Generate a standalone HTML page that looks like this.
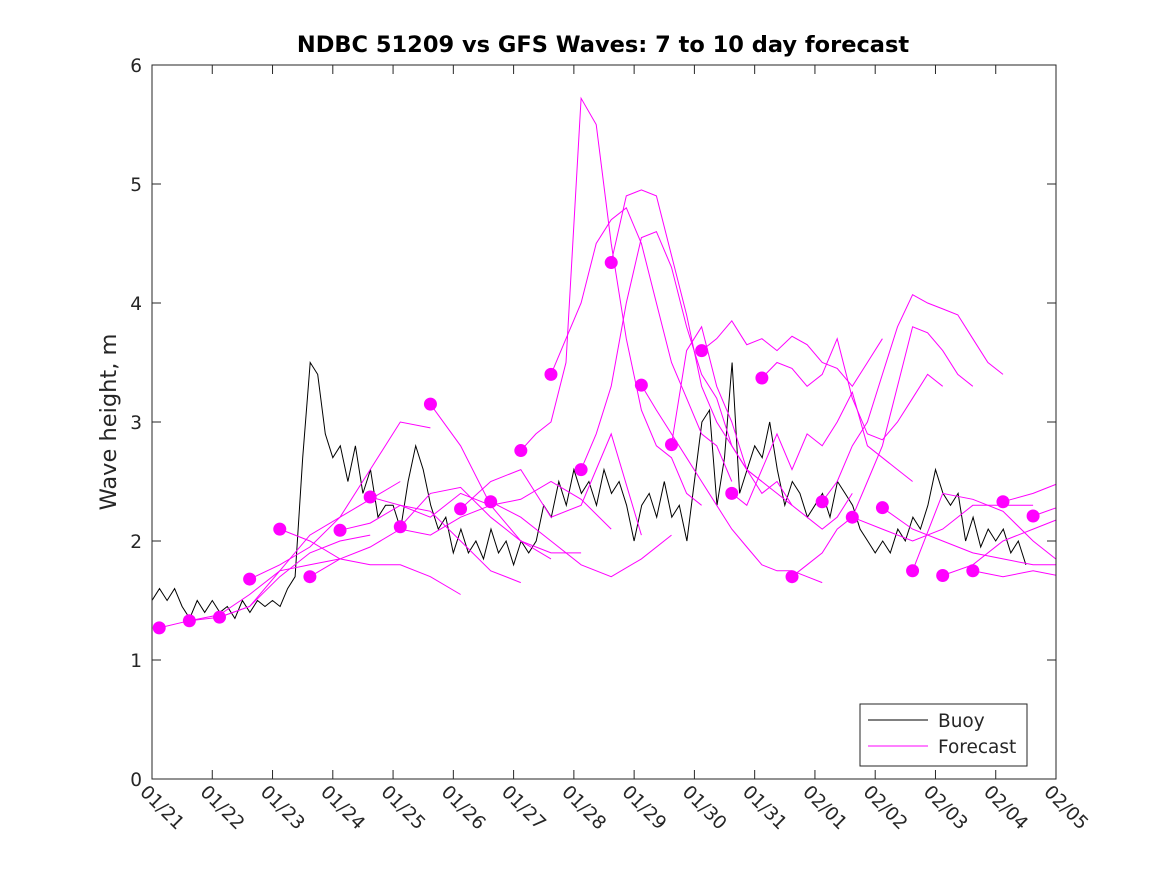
<!DOCTYPE html>
<html><head><meta charset="utf-8">
<style>
html,body{margin:0;padding:0;background:#fff;}
svg text{font-family:"DejaVu Sans","Liberation Sans",sans-serif;fill:#262626;}
</style></head>
<body>
<svg id="chart" width="1167" height="875" viewBox="0 0 1167 875" xmlns="http://www.w3.org/2000/svg">
<rect width="1167" height="875" fill="#fff"/>
<text x="603" y="52" text-anchor="middle" font-size="22.5" font-weight="bold" style="fill:#000">NDBC 51209 vs GFS Waves: 7 to 10 day forecast</text>
<text transform="translate(116,422) rotate(-90)" text-anchor="middle" font-size="22.5">Wave height, m</text>
<g id="plot"></g>
<g id="axes"></g>
<g>
<rect x="860" y="704" width="167" height="62" fill="#fff" stroke="#262626" stroke-width="1"/>
<line x1="868" y1="720" x2="928" y2="720" stroke="#000" stroke-width="1"/>
<text x="938" y="727" font-size="18.5">Buoy</text>
<line x1="868" y1="746" x2="928" y2="746" stroke="#ff00ff" stroke-width="1"/>
<text x="938" y="753" font-size="18.5">Forecast</text>
</g>
</svg>
<script>
const xTickLabels=["01/21","01/22","01/23","01/24","01/25","01/26","01/27","01/28","01/29","01/30","01/31","02/01","02/02","02/03","02/04","02/05"];
const yTickLabels=[0,1,2,3,4,5,6];
const buoyStep=0.125;
const buoyValues=[1.5,
1.6,1.5,1.6,1.45, 1.35,1.5,1.4,1.5, 1.4,1.45,1.35,1.5, 1.4,1.5,1.45,1.5,
1.45,1.6,1.7,2.7, 3.5,3.4,2.9,2.7, 2.8,2.5,2.8,2.4, 2.6,2.2,2.3,2.3,
2.1,2.5,2.8,2.6, 2.3,2.1,2.2,1.9, 2.1,1.9,2.0,1.85, 2.1,1.9,2.0,1.8,
2.0,1.9,2.0,2.3, 2.2,2.5,2.3,2.6, 2.4,2.5,2.3,2.6, 2.4,2.5,2.3,2.0,
2.3,2.4,2.2,2.5, 2.2,2.3,2.0,2.5, 3.0,3.1,2.3,2.7, 3.5,2.4,2.6,2.8,
2.7,3.0,2.6,2.3, 2.5,2.4,2.2,2.3, 2.4,2.2,2.5,2.4, 2.3,2.1,2.0,1.9,
2.0,1.9,2.1,2.0, 2.2,2.1,2.3,2.6, 2.4,2.3,2.4,2.0, 2.2,1.95,2.1,2.0,
2.1,1.9,2.0,1.8];
const forecastStart0=0.12, forecastSpacing=0.5;
const forecastSteps=[0.5,0.5,0.5,0.5,0.5,0.5,0.5,0.5,0.5,0.5,0.5,0.5,0.25,0.25,0.25,0.25,0.25,0.25,0.25,0.25,0.25,0.25,0.25,0.5,0.5,0.5,0.5,0.5,0.5,0.5];
const forecasts=[
[1.27,1.33,1.38,1.55,1.75,1.8,1.85],
[1.33,1.36,1.45,1.7,1.9,2.0,2.05],
[1.36,1.45,1.75,2.05,2.2,2.35,2.5],
[1.68,1.8,1.95,2.2,2.6,3.0,2.95],
[2.10,2.0,1.85,1.8,1.8,1.7,1.55],
[1.70,1.85,1.95,2.1,2.05,2.2,2.3],
[2.09,2.15,2.3,2.25,2.0,1.75,1.65],
[2.37,2.3,2.2,2.4,2.3,2.0,1.85],
[2.12,2.4,2.45,2.2,2.0,1.9,1.9],
[3.15,2.8,2.3,2.35,2.5,2.35,2.1],
[2.27,2.5,2.6,2.2,2.3,2.9,2.05],
[2.33,2.2,2.0,1.8,1.7,1.85,2.05],
[2.76,2.9,3.0,3.5,5.72,5.5,4.5,3.7,3.1,2.8,2.7,2.4,2.3],
[3.40,3.7,4.0,4.5,4.7,4.8,4.5,4.0,3.5,3.2,2.9,2.8,2.5],
[2.60,2.9,3.3,4.0,4.55,4.6,4.3,3.8,3.4,3.2,2.8,2.6,2.5],
[4.34,4.9,4.95,4.9,4.4,3.9,3.3,3.0,2.8,2.6,2.5,2.4,2.3],
[3.31,3.1,2.9,2.7,2.5,2.3,2.1,1.95,1.8,1.75,1.75,1.7,1.65],
[2.81,3.6,3.8,3.3,3.0,2.6,2.4,2.5,2.3,2.2,2.1,2.2,2.4],
[3.60,3.7,3.85,3.65,3.7,3.6,3.72,3.65,3.5,3.45,3.3,3.5,3.7],
[2.40,2.3,2.6,2.9,2.6,2.9,2.8,3.0,3.25,2.8,2.7,2.6,2.5],
[3.37,3.5,3.45,3.3,3.4,3.7,3.2,2.9,2.85,3.0,3.2,3.4,3.3],
[1.70,1.8,1.9,2.1,2.2,2.5,2.8,3.3,3.8,3.75,3.6,3.4,3.3],
[2.33,2.5,2.8,3.0,3.4,3.8,4.07,4.0,3.95,3.9,3.7,3.5,3.4],
[2.20,2.1,2.0,2.1,2.3,2.3,2.3],
[2.28,2.1,2.0,1.9,1.85,1.8,1.8],
[1.75,2.4,2.35,2.25,2.0,1.8,1.75],
[1.71,1.8,2.0,2.1,2.2,2.3,2.25],
[1.75,1.7,1.75,1.7,1.7,1.65,1.6],
[2.33,2.4,2.5,2.6,2.8,2.9,3.0],
[2.21,2.3,2.0,1.9,1.8,1.7,1.6]
];
const X0=152,X1=1056,Y0=779,Y1=65,DMAX=15,VMAX=6;
const xs=d=>X0+(X1-X0)*d/DMAX;
const ys=v=>Y0-(Y0-Y1)*v/VMAX;
const NS="http://www.w3.org/2000/svg";
const plot=document.getElementById('plot');
const axes=document.getElementById('axes');
function mk(tag,attrs,parent){const e=document.createElementNS(NS,tag);for(const k in attrs)e.setAttribute(k,attrs[k]);parent.appendChild(e);return e;}
const clip=mk('clipPath',{id:'pc'},document.getElementById('chart'));
mk('rect',{x:X0,y:Y1,width:X1-X0,height:Y0-Y1},clip);
plot.setAttribute('clip-path','url(#pc)');
let bp=buoyValues.map((v,i)=>xs(i*buoyStep).toFixed(1)+','+ys(v).toFixed(1)).join(' ');
const bl=mk('polyline',{points:bp,fill:'none',stroke:'#000','stroke-width':1},plot);


forecasts.forEach((f,i)=>{
  const s=forecastStart0+i*forecastSpacing;
  const st=forecastSteps[i];
  const pts=f.map((v,j)=>xs(s+j*st).toFixed(1)+','+ys(v).toFixed(1)).join(' ');
  const pl=mk('polyline',{points:pts,fill:'none',stroke:'#ff00ff','stroke-width':1},plot);
  
  
});
forecasts.forEach((f,i)=>{
  const s=forecastStart0+i*forecastSpacing;
  const c=mk('circle',{cx:xs(s),cy:ys(f[0]),r:6.5,fill:'#ff00ff'},plot);
  
  
});
const box=mk('rect',{x:X0,y:Y1,width:X1-X0,height:Y0-Y1,fill:'none',stroke:'#262626','stroke-width':1},axes);


yTickLabels.forEach(v=>{
  const y=ys(v);
  mk('line',{x1:X0,y1:y,x2:X0+9,y2:y,stroke:'#262626'},axes);
  mk('line',{x1:X1,y1:y,x2:X1-9,y2:y,stroke:'#262626'},axes);
  const t=mk('text',{x:X0-10,y:y+7,'text-anchor':'end','font-size':18.5},axes);
  t.textContent=v;
  
  
});
xTickLabels.forEach((l,i)=>{
  const x=xs(i);
  mk('line',{x1:x,y1:Y0,x2:x,y2:Y0-9,stroke:'#262626'},axes);
  mk('line',{x1:x,y1:Y1,x2:x,y2:Y1+9,stroke:'#262626'},axes);
  const t=mk('text',{transform:`translate(${x-13},${Y0+14}) rotate(45)`,'font-size':18.5},axes);
  t.textContent=l;
  
  
});
</script>
</body></html>
